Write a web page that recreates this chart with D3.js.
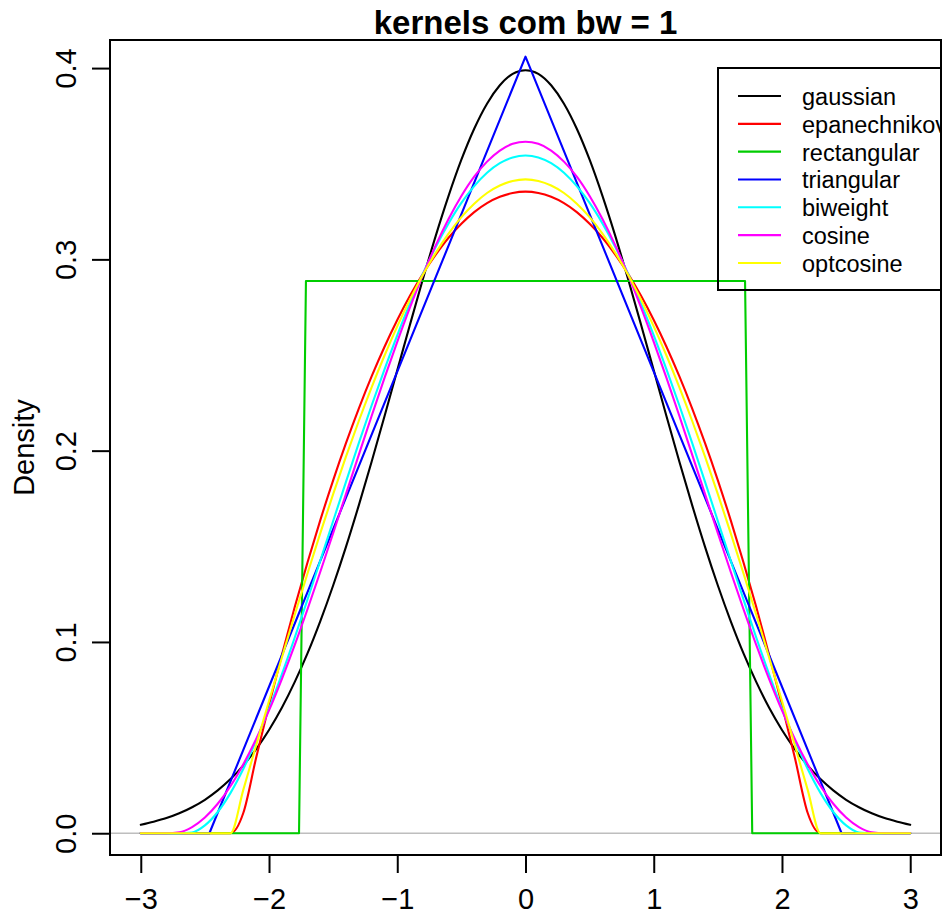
<!DOCTYPE html>
<html>
<head>
<meta charset="utf-8">
<script src="https://cdn.jsdelivr.net/npm/d3@7"></script>
<style>
  html, body { margin: 0; padding: 0; background: #ffffff; }
  svg { display: block; }
</style>
</head>
<body>
<svg id="chart" width="942" height="915"></svg>
<script>
// Evaluation grid shared by the smooth kernel estimates
const gridX = [-3.0,-2.9,-2.8,-2.7,-2.6,-2.5,-2.4,-2.3,-2.2,-2.1,
               -2.0,-1.9,-1.8,-1.7,-1.6,-1.5,-1.4,-1.3,-1.2,-1.1,
               -1.0,-0.9,-0.8,-0.7,-0.6,-0.5,-0.4,-0.3,-0.2,-0.1,
                0.0,
                0.1, 0.2, 0.3, 0.4, 0.5, 0.6, 0.7, 0.8, 0.9, 1.0,
                1.1, 1.2, 1.3, 1.4, 1.5, 1.6, 1.7, 1.8, 1.9, 2.0,
                2.1, 2.2, 2.3, 2.4, 2.5, 2.6, 2.7, 2.8, 2.9, 3.0];

const gaussian = [0.0044,0.0060,0.0079,0.0104,0.0136,0.0175,0.0224,0.0283,0.0355,0.0440,
                  0.0540,0.0656,0.0790,0.0940,0.1109,0.1295,0.1497,0.1714,0.1942,0.2179,
                  0.2420,0.2661,0.2897,0.3123,0.3332,0.3521,0.3683,0.3814,0.3910,0.3970,
                  0.3989,
                  0.3970,0.3910,0.3814,0.3683,0.3521,0.3332,0.3123,0.2897,0.2661,0.2420,
                  0.2179,0.1942,0.1714,0.1497,0.1295,0.1109,0.0940,0.0790,0.0656,0.0540,
                  0.0440,0.0355,0.0283,0.0224,0.0175,0.0136,0.0104,0.0079,0.0060,0.0044];

const epanechnikov = [0,0,0,0,0,0,0,0,0.0107,0.0396,
                      0.0671,0.0932,0.1181,0.1415,0.1637,0.1845,0.2039,0.2220,0.2388,0.2542,
                      0.2683,0.2811,0.2925,0.3025,0.3113,0.3186,0.3247,0.3294,0.3327,0.3347,
                      0.3354,
                      0.3347,0.3327,0.3294,0.3247,0.3186,0.3113,0.3025,0.2925,0.2811,0.2683,
                      0.2542,0.2388,0.2220,0.2039,0.1845,0.1637,0.1415,0.1181,0.0932,0.0671,
                      0.0396,0.0107,0,0,0,0,0,0,0,0];

const biweight = [0,0,0,0,0.0004,0.0041,0.0111,0.0211,0.0337,0.0485,
                  0.0651,0.0831,0.1022,0.1222,0.1426,0.1632,0.1837,0.2039,0.2236,0.2424,
                  0.2603,0.2771,0.2925,0.3065,0.3188,0.3295,0.3383,0.3453,0.3503,0.3533,
                  0.3543,
                  0.3533,0.3503,0.3453,0.3383,0.3295,0.3188,0.3065,0.2925,0.2771,0.2603,
                  0.2424,0.2236,0.2039,0.1837,0.1632,0.1426,0.1222,0.1022,0.0831,0.0651,
                  0.0485,0.0337,0.0211,0.0111,0.0041,0.0004,0,0,0,0];

const cosine = [0,0,0,0.0005,0.0032,0.0082,0.0154,0.0247,0.0361,0.0493,
                0.0642,0.0806,0.0983,0.1171,0.1367,0.1568,0.1773,0.1978,0.2181,0.2379,
                0.2569,0.2750,0.2919,0.3073,0.3211,0.3331,0.3432,0.3511,0.3569,0.3604,
                0.3615,
                0.3604,0.3569,0.3511,0.3432,0.3331,0.3211,0.3073,0.2919,0.2750,0.2569,
                0.2379,0.2181,0.1978,0.1773,0.1568,0.1367,0.1171,0.0983,0.0806,0.0642,
                0.0493,0.0361,0.0247,0.0154,0.0082,0.0032,0.0005,0,0,0];

const optcosine = [0,0,0,0,0,0,0,0,0.0228,0.0460,
                   0.0691,0.0918,0.1141,0.1358,0.1569,0.1773,0.1969,0.2155,0.2331,0.2496,
                   0.2650,0.2791,0.2920,0.3034,0.3135,0.3221,0.3291,0.3347,0.3386,0.3410,
                   0.3418,
                   0.3410,0.3386,0.3347,0.3291,0.3221,0.3135,0.3034,0.2920,0.2791,0.2650,
                   0.2496,0.2331,0.2155,0.1969,0.1773,0.1569,0.1358,0.1141,0.0918,0.0691,
                   0.0460,0.0228,0,0,0,0,0,0,0,0];

// Piecewise-linear kernels: corner points only
const rectangularX = [-3.0, -1.766, -1.712, 1.712, 1.768, 3.0];
const rectangular  = [0, 0, 0.2887, 0.2887, 0, 0];
const triangularX  = [-3.0, -2.465, 0.0, 2.465, 3.0];
const triangular   = [0, 0, 0.406, 0, 0];

const kernelNames  = ["gaussian","epanechnikov","rectangular","triangular","biweight","cosine","optcosine"];
const kernelColors = ["#000000","#FF0000","#00CD00","#0000FF","#00FFFF","#FF00FF","#FFFF00"];

const xTicks = [-3, -2, -1, 0, 1, 2, 3];
const xTickLabels = ["\u22123", "\u22122", "\u22121", "0", "1", "2", "3"];
const yTicks = [0, 0.1, 0.2, 0.3, 0.4];
const yTickLabels = ["0.0", "0.1", "0.2", "0.3", "0.4"];

const FONT = "'Liberation Sans', Arial, Helvetica, sans-serif";

// Plot region
const plotLeft = 110, plotRight = 941, plotTop = 40, plotBottom = 855;

const svg = d3.select("#chart").attr("font-family", FONT);

// Axis limits: data range widened by 4% on each side
const xExt = d3.extent(gridX);
const xPad = (xExt[1] - xExt[0]) * 0.04;
const yExt = d3.extent(gaussian);
const yPad = (yExt[1] - yExt[0]) * 0.04;

const x = d3.scaleLinear().domain([xExt[0] - xPad, xExt[1] + xPad]).range([plotLeft, plotRight]);
const y = d3.scaleLinear().domain([yExt[0] - yPad, yExt[1] + yPad]).range([plotBottom, plotTop]);

const smoothLine = d3.line().x(d => x(d[0])).y(d => y(d[1])).curve(d3.curveMonotoneX);
const straightLine = d3.line().x(d => x(d[0])).y(d => y(d[1])).curve(d3.curveLinear);

const series = [
  { name: "gaussian",     xs: gridX,        ys: gaussian,     gen: smoothLine },
  { name: "epanechnikov", xs: gridX,        ys: epanechnikov, gen: smoothLine },
  { name: "rectangular",  xs: rectangularX, ys: rectangular,  gen: straightLine },
  { name: "triangular",   xs: triangularX,  ys: triangular,   gen: straightLine },
  { name: "biweight",     xs: gridX,        ys: biweight,     gen: smoothLine },
  { name: "cosine",       xs: gridX,        ys: cosine,       gen: smoothLine },
  { name: "optcosine",    xs: gridX,        ys: optcosine,    gen: smoothLine }
];
series.forEach(s => { s.color = kernelColors[kernelNames.indexOf(s.name)]; });

svg.append("clipPath").attr("id", "plotClip")
  .append("rect")
  .attr("x", plotLeft).attr("y", plotTop)
  .attr("width", plotRight - plotLeft).attr("height", plotBottom - plotTop);

const plotG = svg.append("g").attr("clip-path", "url(#plotClip)");

function drawSeries(s) {
  plotG.append("path")
    .datum(s.xs.map((v, i) => [v, s.ys[i]]))
    .attr("d", s.gen)
    .attr("fill", "none")
    .attr("stroke", s.color)
    .attr("stroke-width", 2.1)
    .attr("stroke-linejoin", "round")
    .attr("stroke-linecap", "round");
}

// First density, then the zero reference line, then the remaining kernels
drawSeries(series[0]);
plotG.append("line")
  .attr("x1", plotLeft).attr("x2", plotRight)
  .attr("y1", y(0)).attr("y2", y(0))
  .attr("stroke", "#BEBEBE").attr("stroke-width", 1.6);
series.slice(1).forEach(drawSeries);

// Frame
svg.append("rect")
  .attr("x", plotLeft).attr("y", plotTop)
  .attr("width", plotRight - plotLeft).attr("height", plotBottom - plotTop)
  .attr("fill", "none").attr("stroke", "#000").attr("stroke-width", 2);

// Bottom axis
const gx = svg.append("g")
  .attr("transform", `translate(0,${plotBottom})`)
  .call(d3.axisBottom(x).tickValues(xTicks).tickFormat((d, i) => xTickLabels[i]).tickSize(18).tickSizeOuter(0));
gx.attr("font-family", FONT).attr("font-size", 29);
gx.select(".domain").remove();
gx.selectAll(".tick line").attr("stroke", "#000").attr("stroke-width", 2);
gx.selectAll(".tick text").attr("y", 53.5).attr("dy", null).attr("fill", "#000");

// Left axis, labels rotated parallel to the axis
const gy = svg.append("g")
  .attr("transform", `translate(${plotLeft},0)`)
  .call(d3.axisLeft(y).tickValues(yTicks).tickFormat((d, i) => yTickLabels[i]).tickSize(18).tickSizeOuter(0));
gy.attr("font-family", FONT).attr("font-size", 29);
gy.select(".domain").remove();
gy.selectAll(".tick line").attr("stroke", "#000").attr("stroke-width", 2);
gy.selectAll(".tick text")
  .attr("x", 0).attr("dy", null)
  .attr("text-anchor", "middle")
  .attr("fill", "#000")
  .attr("transform", "translate(-34,0) rotate(-90)");

// Title
svg.append("text")
  .attr("x", (plotLeft + plotRight) / 2).attr("y", 33.5)
  .attr("text-anchor", "middle")
  .attr("font-size", 33).attr("font-weight", "bold")
  .attr("fill", "#000")
  .text("kernels com bw = 1");

// Y axis title
svg.append("text")
  .attr("transform", `translate(33.5,${(plotTop + plotBottom) / 2}) rotate(-90)`)
  .attr("text-anchor", "middle")
  .attr("font-size", 29)
  .attr("fill", "#000")
  .text("Density");

// Legend
const legX = 718, legY = 68, legW = plotRight - 718, legH = 222;
const rowY0 = 96, rowStep = 27.83;
const legG = svg.append("g");
legG.append("rect")
  .attr("x", legX).attr("y", legY).attr("width", legW).attr("height", legH)
  .attr("fill", "none").attr("stroke", "#000").attr("stroke-width", 2);
kernelNames.forEach((name, i) => {
  const ry = rowY0 + i * rowStep;
  legG.append("line")
    .attr("x1", 738).attr("x2", 781)
    .attr("y1", ry).attr("y2", ry)
    .attr("stroke", kernelColors[i]).attr("stroke-width", 2.1);
  legG.append("text")
    .attr("x", 802).attr("y", ry + 9)
    .attr("font-size", 23.5)
    .attr("fill", "#000")
    .text(name);
});
</script>
</body>
</html>
